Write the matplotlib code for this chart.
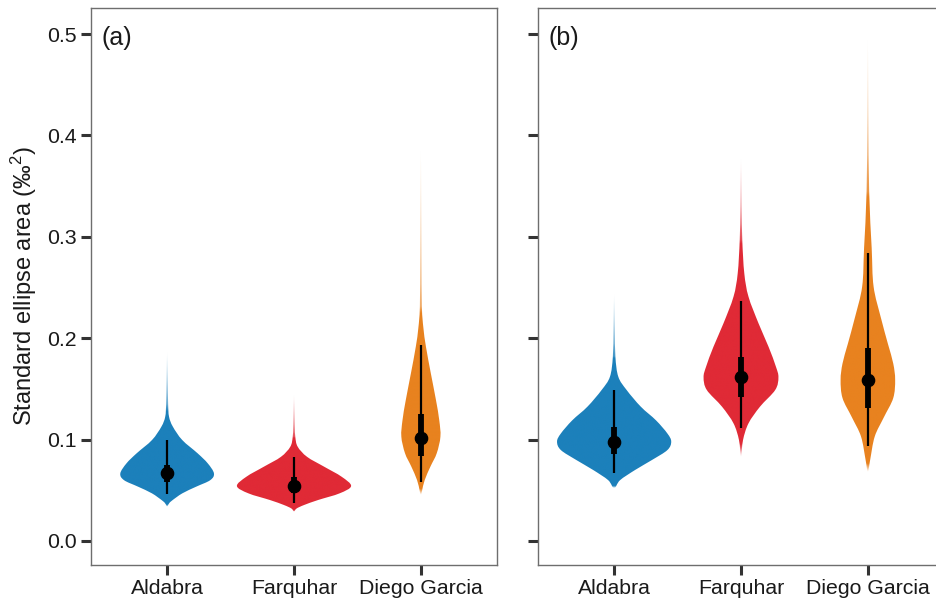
import numpy as np
import matplotlib
matplotlib.use("Agg")
import matplotlib.pyplot as plt
from matplotlib.path import Path
from matplotlib.patches import PathPatch
from matplotlib.colors import to_rgb

plt.rcParams['font.family'] = ['Liberation Sans', 'DejaVu Sans']
plt.rcParams['mathtext.default'] = 'regular'

# --- data ---
SITES = ["Aldabra", "Farquhar", "Diego Garcia"]
COLORS = ["#1c80bb", "#e02a36", "#e8821f"]

# violin outlines: SEA value (per mil^2) and half width (x units)
A_ALD_Y = [0.034, 0.037, 0.040, 0.047, 0.0536, 0.060, 0.0667, 0.0766, 0.0865, 0.0996, 0.1128, 0.1226, 0.135, 0.155, 0.188]
A_ALD_W = [0.0, 0.015, 0.04, 0.12, 0.23, 0.34, 0.369, 0.32, 0.24, 0.119, 0.045, 0.015, 0.008, 0.005, 0.0]
A_FAR_Y = [0.029, 0.032, 0.0355, 0.0404, 0.047, 0.0542, 0.0634, 0.0733, 0.083, 0.093, 0.103, 0.115, 0.146]
A_FAR_W = [0.0, 0.02, 0.08, 0.19, 0.36, 0.45, 0.375, 0.237, 0.103, 0.029, 0.01, 0.006, 0.0]
A_DGA_Y = [0.045, 0.050, 0.060, 0.0733, 0.0865, 0.1029, 0.119, 0.139, 0.165, 0.1916, 0.21, 0.231, 0.28, 0.33, 0.39]
A_DGA_W = [0.0, 0.01, 0.03, 0.075, 0.125, 0.154, 0.145, 0.119, 0.079, 0.04, 0.02, 0.008, 0.005, 0.003, 0.0]

B_ALD_Y = [0.052, 0.060, 0.070, 0.080, 0.0897, 0.098, 0.106, 0.119, 0.1325, 0.149, 0.162, 0.1818, 0.21, 0.245]
B_ALD_W = [0.0, 0.047, 0.165, 0.30, 0.42, 0.45, 0.42, 0.33, 0.21, 0.098, 0.033, 0.01, 0.005, 0.0]
B_FAR_Y = [0.083, 0.0996, 0.116, 0.1325, 0.149, 0.1614, 0.172, 0.1916, 0.2147, 0.241, 0.264, 0.297, 0.33, 0.38]
B_FAR_W = [0.0, 0.016, 0.059, 0.15, 0.27, 0.295, 0.275, 0.217, 0.138, 0.059, 0.026, 0.01, 0.005, 0.0]
B_DGA_Y = [0.068, 0.080, 0.103, 0.122, 0.141, 0.159, 0.175, 0.194, 0.220, 0.251, 0.289, 0.345, 0.42, 0.50]
B_DGA_W = [0.0, 0.018, 0.054, 0.126, 0.20, 0.215, 0.20, 0.159, 0.103, 0.045, 0.03, 0.01, 0.004, 0.0]

# medians and credible intervals (thick = 50 %, thin = 95 %)
A_MED = [0.0667, 0.0542, 0.102]
A_IN_LO = [0.0585, 0.047, 0.0838]
A_IN_HI = [0.075, 0.0634, 0.125]
A_OUT_LO = [0.046, 0.0372, 0.0585]
A_OUT_HI = [0.0996, 0.0825, 0.193]

B_MED = [0.098, 0.1614, 0.159]
B_IN_LO = [0.0855, 0.1417, 0.131]
B_IN_HI = [0.1127, 0.1818, 0.19]
B_OUT_LO = [0.0668, 0.1118, 0.094]
B_OUT_HI = [0.149, 0.237, 0.284]

FADE_W = 0.012  # half width below which the tails fade out


def outline_path(xc, ys, ws):
    # closed smooth outline (Catmull-Rom turned into cubic beziers)
    n = len(ys)
    pts = [(xc + ws[i], ys[i]) for i in range(n)]
    pts += [(xc - ws[i], ys[i]) for i in range(n - 2, 0, -1)]
    pts = np.array(pts)
    m = len(pts)
    verts = [pts[0]]
    codes = [Path.MOVETO]
    for i in range(m):
        p0, p1 = pts[i - 1], pts[i]
        p2, p3 = pts[(i + 1) % m], pts[(i + 2) % m]
        verts += [p1 + (p2 - p0) / 6, p2 - (p3 - p1) / 6, p2]
        codes += [Path.CURVE4] * 3
    return Path(np.array(verts), codes)


def draw_violin(ax, xc, ys, ws, color):
    path = outline_path(xc, ys, ws)
    patch = PathPatch(path, transform=ax.transData, facecolor='none', edgecolor='none')
    ax.add_patch(patch)
    rows = np.linspace(ys[0], ys[-1], 800)
    alpha = np.clip(np.interp(rows, ys, ws) / FADE_W, 0, 1)
    img = np.zeros((len(rows), 1, 4))
    img[:, 0, :3] = to_rgb(color)
    img[:, 0, 3] = alpha
    wmax = max(ws) * 1.05
    im = ax.imshow(img, origin='lower', aspect='auto', interpolation='bilinear',
                   extent=[xc - wmax, xc + wmax, ys[0], ys[-1]], zorder=2)
    im.set_clip_path(patch)


def draw_panel(ax, profiles, med, in_lo, in_hi, out_lo, out_hi, label):
    for i, (ys, ws) in enumerate(profiles):
        draw_violin(ax, i, ys, ws, COLORS[i])
    xs = np.arange(len(SITES))
    ax.vlines(xs, out_lo, out_hi, color='black', lw=1.6, zorder=3)
    ax.vlines(xs, in_lo, in_hi, color='black', lw=4.2, zorder=3)
    ax.plot(xs, med, 'o', color='black', ms=8.8, zorder=4)
    ax.set_xlim(-0.6, 2.6)
    ax.set_ylim(-0.0237, 0.5257)
    ax.set_xticks(xs)
    ax.set_xticklabels(SITES)
    ax.set_yticks([0.0, 0.1, 0.2, 0.3, 0.4, 0.5])
    ax.tick_params(axis='both', length=7, width=2.2, color='#333333',
                   labelsize=15.3, labelcolor='#1a1a1a', pad=3)
    for sp in ax.spines.values():
        sp.set_color('#6e6e6e')
        sp.set_linewidth(1.0)
    ax.text(0.027, 0.946, label, transform=ax.transAxes, fontsize=18,
            ha='left', va='center', color='#1a1a1a')


fig = plt.figure(figsize=(9.36, 6.02), dpi=100)
ax_a = fig.add_axes([91 / 936, 1 - 565 / 602, 406 / 936, 557 / 602])
ax_b = fig.add_axes([538 / 936, 1 - 565 / 602, 406 / 936, 557 / 602])

draw_panel(ax_a, [(A_ALD_Y, A_ALD_W), (A_FAR_Y, A_FAR_W), (A_DGA_Y, A_DGA_W)],
           A_MED, A_IN_LO, A_IN_HI, A_OUT_LO, A_OUT_HI, "(a)")
draw_panel(ax_b, [(B_ALD_Y, B_ALD_W), (B_FAR_Y, B_FAR_W), (B_DGA_Y, B_DGA_W)],
           B_MED, B_IN_LO, B_IN_HI, B_OUT_LO, B_OUT_HI, "(b)")
ax_b.set_yticklabels([])

ax_a.set_yticklabels(["0.0", "0.1", "0.2", "0.3", "0.4", "0.5"])
ax_a.set_ylabel("Standard ellipse area (‰$^{2}$)", fontsize=17, color='#1a1a1a', labelpad=6)

fig.savefig("out.png", dpi=100)
